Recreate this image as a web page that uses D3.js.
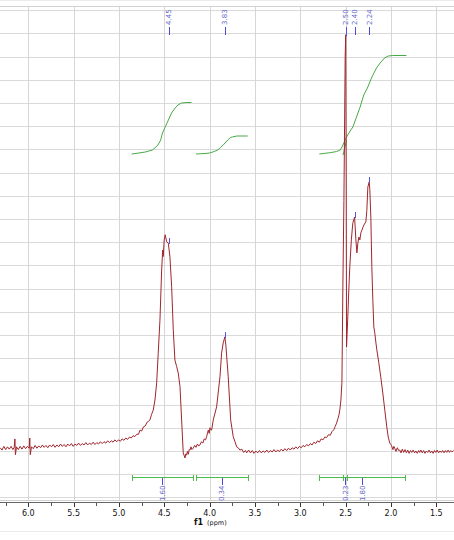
<!DOCTYPE html>
<html>
<head>
<meta charset="utf-8">
<script src="https://cdnjs.cloudflare.com/ajax/libs/d3/7.8.5/d3.min.js"></script>
<style>
body { margin: 0; background: #fff; }
svg { display: block; font-family: 'DejaVu Sans', sans-serif; }
</style>
</head>
<body>
<div id="chart"></div>
<script>
(function(){

// axis ticks (ppm)
var majorTicks = [6.0, 5.5, 5.0, 4.5, 4.0, 3.5, 3.0, 2.5, 2.0, 1.5];
var minorTicks = [6.25, 5.75, 5.25, 4.75, 4.25, 3.75, 3.25, 2.75, 2.25, 1.75];

// picked peaks (ppm)
var peaks = [4.45, 3.83, 2.50, 2.40, 2.24];

// integral regions: start, end, value
var intFrom  = [4.86, 4.15, 2.79, 2.53];
var intTo    = [4.18, 3.58, 1.84, 2.48];
var intValue = ['1.60', '0.34', '1.80', '0.23'];

// integral curves [ppm, cumulative]
var integral1 = [[4.86,0],[4.78,1],[4.71,2],[4.63,4],[4.57,9],[4.54,14],[4.52,21],[4.47,31],[4.42,41],[4.38,46],[4.35,49],[4.31,51],[4.25,51.5],[4.20,51.5]];
var integral2 = [[4.15,0],[4.05,0.5],[4.00,1],[3.95,2.5],[3.91,4],[3.88,6.5],[3.85,9],[3.80,14],[3.77,16.5],[3.75,17],[3.70,18],[3.58,18]];
var integral3 = [[2.79,0],[2.72,0.8],[2.68,1.2],[2.64,1.8],[2.60,2.5],[2.56,4],[2.54,7],[2.49,17],[2.45,23],[2.42,27],[2.38,37],[2.34,47],[2.30,59],[2.26,66],[2.21,77],[2.16,86],[2.12,91],[2.07,96],[2.03,98],[1.98,98.5],[1.90,98.5],[1.83,98.5]];
var integral4 = [[2.53,-1],[2.52,2],[2.505,8],[2.49,14]];

// 1H spectrum [ppm, intensity]
var spectrum = [
[6.31,0.7],[6.29,0.2],[6.27,1.0],[6.25,0.3],[6.23,0.9],[6.21,0.4],[6.19,1.0],[6.17,0.3],[6.155,0.8],[6.148,2.6],[6.142,-0.8],[6.13,0.9],
[6.11,0.3],[6.09,1.0],[6.07,0.4],[6.05,1.1],[6.03,0.5],[6.01,1.0],[5.99,0.6],[5.984,2.8],[5.978,-0.8],[5.965,0.9],[5.945,0.5],[5.925,1.2],
[5.905,0.6],[5.885,1.1],[5.865,0.7],[5.845,1.3],[5.825,0.8],[5.805,1.2],[5.785,0.7],[5.765,1.3],[5.745,0.9],[5.725,1.4],[5.705,0.8],[5.685,1.3],
[5.665,0.9],[5.645,1.5],[5.625,1.0],[5.605,1.4],[5.585,0.9],[5.565,1.5],[5.545,1.1],[5.525,1.6],[5.505,1.0],[5.485,1.5],[5.465,1.2],[5.445,1.7],
[5.425,1.2],[5.405,1.6],[5.385,1.3],[5.365,1.8],[5.345,1.3],[5.325,1.7],[5.305,1.4],[5.285,1.9],[5.265,1.4],[5.245,1.8],[5.225,1.5],[5.205,2.0],
[5.185,1.6],[5.165,2.0],[5.145,1.7],[5.125,2.2],[5.105,1.8],[5.085,2.2],[5.065,1.9],[5.045,2.4],[5.025,2.0],[5.005,2.4],[4.985,2.1],[4.965,2.6],
[4.945,2.3],[4.925,2.8],[4.905,2.5],[4.885,3.0],[4.865,2.8],[4.845,3.3],[4.825,3.1],[4.805,3.6],[4.785,3.6],[4.768,4.5],[4.75,4.3],[4.73,5.2],
[4.71,5.4],[4.69,6.2],[4.675,6.4],[4.658,6.7],[4.64,7.9],[4.622,8.8],[4.603,11.0],[4.584,14.7],[4.567,21.1],[4.548,28.2],[4.529,39.0],[4.518,43.3],
[4.512,41.9],[4.501,45.5],[4.490,46.6],[4.474,45.1],[4.456,44.8],[4.438,41.9],[4.419,35.4],[4.401,26.1],[4.383,19.6],[4.364,18.2],[4.346,16.8],[4.327,13.9],
[4.309,6.7],[4.291,-0.4],[4.272,-1.5],[4.262,-0.6],[4.254,-0.9],[4.245,-0.1],[4.235,-0.7],[4.226,0.3],[4.217,0.2],[4.205,0.9],[4.195,0.3],[4.181,0.6],
[4.165,1.2],[4.15,0.8],[4.135,1.5],[4.12,1.1],[4.107,1.3],[4.09,2.0],[4.075,1.7],[4.06,2.6],[4.045,2.4],[4.033,3.1],[4.023,3.9],[4.015,4.5],
[4.005,3.8],[3.997,5.0],[3.988,4.6],[3.978,4.5],[3.960,6.7],[3.923,9.5],[3.886,16.0],[3.868,21.1],[3.850,23.3],[3.832,24.6],[3.821,22.8],[3.795,16.0],
[3.768,6.7],[3.740,3.1],[3.72,2.0],[3.702,0.9],[3.685,0.7],[3.666,0.2],[3.645,0.4],[3.625,-0.3],[3.605,0.1],[3.592,-0.4],[3.57,0.2],[3.55,-0.4],
[3.53,0.1],[3.51,-0.5],[3.49,0.0],[3.47,-0.4],[3.45,0.1],[3.43,-0.4],[3.41,0.0],[3.39,-0.3],[3.37,0.2],[3.35,-0.3],[3.33,0.1],[3.31,-0.2],
[3.29,0.3],[3.27,-0.2],[3.25,0.2],[3.23,-0.1],[3.21,0.4],[3.19,0.0],[3.17,0.5],[3.15,0.1],[3.13,0.6],[3.11,0.2],[3.09,0.7],[3.07,0.4],
[3.05,0.9],[3.03,0.5],[3.01,1.0],[2.99,0.7],[2.97,1.2],[2.95,0.9],[2.93,1.4],[2.91,1.1],[2.89,1.6],[2.87,1.3],[2.85,1.9],[2.83,1.6],
[2.81,2.2],[2.79,1.9],[2.77,2.6],[2.75,2.4],[2.73,3.0],[2.71,2.9],[2.69,3.5],[2.67,3.4],[2.65,4.2],[2.63,4.6],[2.615,5.3],[2.60,6.0],
[2.585,7.0],[2.573,7.8],[2.563,9.0],[2.552,11.0],[2.541,14.7],[2.530,36.2],[2.519,54.0],[2.505,85.0],[2.499,89.7],[2.494,60.0],[2.490,22.4],[2.476,28.9],
[2.465,34.7],[2.454,39.7],[2.437,45.5],[2.421,49.1],[2.401,50.4],[2.387,45.5],[2.376,42.7],[2.365,44.8],[2.354,46.1],[2.343,45.5],[2.332,47.0],[2.321,47.6],
[2.299,48.7],[2.277,49.4],[2.266,51.9],[2.255,56.9],[2.240,58.0],[2.233,56.3],[2.222,50.4],[2.211,39.7],[2.200,32.5],[2.189,26.7],[2.178,25.4],[2.167,23.5],
[2.156,21.8],[2.134,19.0],[2.112,15.9],[2.090,12.5],[2.068,8.8],[2.046,5.2],[2.03,3.0],[2.013,1.7],[1.995,1.2],[1.978,0.3],[1.968,1.0],[1.958,0.6],
[1.945,-0.1],[1.93,0.7],[1.915,0.1],[1.903,0.2],[1.89,-0.4],[1.875,0.4],[1.86,-0.3],[1.845,0.3],[1.83,-0.4],[1.815,0.2],[1.80,-0.5],[1.785,0.1],
[1.77,-0.3],[1.755,0.2],[1.74,-0.4],[1.725,0.0],[1.71,-0.5],[1.695,0.1],[1.683,-0.3],[1.67,0.2],[1.655,-0.4],[1.64,0.1],[1.625,-0.5],[1.61,0.0],
[1.595,-0.3],[1.58,0.2],[1.565,-0.4],[1.55,0.0],[1.535,-0.5],[1.52,0.1],[1.505,-0.3],[1.49,0.2],[1.475,-0.4],[1.46,0.0],[1.445,-0.3],[1.43,0.1],
[1.415,-0.4],[1.40,0.1],[1.385,-0.3],[1.37,0.2],[1.355,-0.3],[1.34,0.1],[1.325,-0.2],[1.31,0.1]
];

var width = 454;
var height = 540;
var axisY = 502.5;

var x = d3.scaleLinear().domain([6.0, 1.5]).range([28.3, 436.3]);
var y = d3.scaleLinear().domain([-10, 95]).range([497.4, 10.2]);
var yInt = d3.scaleLinear().domain([0, 100]).range([154, 54]);

var svg = d3.select('#chart').append('svg')
	.attr('width', width)
	.attr('height', height);

// frame + grid
var grid = svg.append('g').attr('shape-rendering', 'crispEdges');

grid.selectAll('line.hgrid').data(y.ticks(20)).enter()
	.append('line')
	.attr('class', 'hgrid')
	.attr('x1', 0).attr('x2', width)
	.attr('y1', function(d) { return Math.round(y(d)) + 0.5; })
	.attr('y2', function(d) { return Math.round(y(d)) + 0.5; })
	.style('stroke', '#dadada');

grid.selectAll('line.vgrid').data(majorTicks).enter()
	.append('line')
	.attr('class', 'vgrid')
	.attr('x1', function(d) { return Math.round(x(d)) + 0.5; })
	.attr('x2', function(d) { return Math.round(x(d)) + 0.5; })
	.attr('y1', 7).attr('y2', 500)
	.style('stroke', '#d6d6d6');

[0.5, 6.5, 500.5, 531.5].forEach(function(yy) {
	grid.append('line')
		.attr('x1', 0).attr('x2', width)
		.attr('y1', yy).attr('y2', yy)
		.style('stroke', yy < 1 || yy > 531 ? '#ebebeb' : '#d2d2d2');
});

// x axis
var axis = svg.append('g').attr('shape-rendering', 'crispEdges');
axis.append('line')
	.attr('x1', 0).attr('x2', width)
	.attr('y1', axisY).attr('y2', axisY)
	.style('stroke', '#666');

axis.selectAll('line.major').data(majorTicks).enter()
	.append('line')
	.attr('x1', function(d) { return Math.round(x(d)) + 0.5; })
	.attr('x2', function(d) { return Math.round(x(d)) + 0.5; })
	.attr('y1', axisY).attr('y2', axisY + 4)
	.style('stroke', '#333');

axis.selectAll('line.minor').data(minorTicks).enter()
	.append('line')
	.attr('x1', function(d) { return Math.round(x(d)) + 0.5; })
	.attr('x2', function(d) { return Math.round(x(d)) + 0.5; })
	.attr('y1', axisY).attr('y2', axisY + 3)
	.style('stroke', '#555');

svg.selectAll('text.tick').data(majorTicks).enter()
	.append('text')
	.attr('class', 'tick')
	.attr('x', function(d) { return x(d); })
	.attr('y', 516)
	.attr('text-anchor', 'middle')
	.style('font-size', '8px')
	.style('fill', '#111')
	.text(d3.format('.1f'));

var title = svg.append('text')
	.attr('x', 194).attr('y', 525)
	.style('fill', '#111');
title.append('tspan').style('font-size', '8px').style('font-weight', 'bold').text('f1');
title.append('tspan').attr('dx', 4).style('font-size', '6.5px').text('(ppm)');

// integral curves
var intLine = d3.line()
	.x(function(d) { return x(d[0]); })
	.y(function(d) { return yInt(d[1]); });

svg.selectAll('path.integral').data([integral1, integral2, integral3, integral4]).enter()
	.append('path')
	.attr('class', 'integral')
	.attr('d', intLine)
	.style('fill', 'none')
	.style('stroke', '#47aa47')
	.style('stroke-width', 1);

// integral bars under the spectrum
var barY = 477.5;
var green = '#4cbb4c';
var bars = svg.selectAll('g.intbar').data(intFrom).enter()
	.append('g')
	.attr('class', 'intbar')
	.attr('shape-rendering', 'crispEdges');

bars.append('line')
	.attr('x1', function(d) { return x(d); })
	.attr('x2', function(d, i) { return x(intTo[i]); })
	.attr('y1', barY).attr('y2', barY)
	.style('stroke', green);

bars.append('line')
	.attr('x1', function(d) { return Math.round(x(d)) + 0.5; })
	.attr('x2', function(d) { return Math.round(x(d)) + 0.5; })
	.attr('y1', barY - 3).attr('y2', barY + 3)
	.style('stroke', green);

bars.append('line')
	.attr('x1', function(d, i) { return Math.round(x(intTo[i])) + 0.5; })
	.attr('x2', function(d, i) { return Math.round(x(intTo[i])) + 0.5; })
	.attr('y1', barY - 3).attr('y2', barY + 3)
	.style('stroke', green);

bars.append('line')
	.attr('x1', function(d, i) { return Math.round(x((d + intTo[i]) / 2)) + 0.5; })
	.attr('x2', function(d, i) { return Math.round(x((d + intTo[i]) / 2)) + 0.5; })
	.attr('y1', barY).attr('y2', barY + 7)
	.style('stroke', '#4b4bd6');

bars.append('text')
	.attr('transform', function(d, i) {
		return 'translate(' + x((d + intTo[i]) / 2) + ',' + (barY + 8) + ') rotate(-90)';
	})
	.attr('dy', '0.35em')
	.attr('text-anchor', 'end')
	.style('font-size', '7px')
	.style('fill', '#6a6ad0')
	.text(function(d, i) { return intValue[i]; });

// spectrum
var line = d3.line()
	.x(function(d) { return x(d[0]); })
	.y(function(d) { return y(d[1]); });

svg.append('path')
	.datum(spectrum)
	.attr('d', line)
	.style('fill', 'none')
	.style('stroke', '#a0262c')
	.style('stroke-width', 1)
	.style('stroke-linejoin', 'round');

// peak labels
var pk = svg.selectAll('g.peak').data(peaks).enter()
	.append('g')
	.attr('class', 'peak');

pk.append('line')
	.attr('x1', function(d) { return Math.round(x(d)) + 0.5; })
	.attr('x2', function(d) { return Math.round(x(d)) + 0.5; })
	.attr('y1', 27).attr('y2', 35)
	.attr('shape-rendering', 'crispEdges')
	.style('stroke', '#4b4bd6');

pk.append('line')
	.attr('x1', function(d) { return Math.round(x(d)) + 0.5; })
	.attr('x2', function(d) { return Math.round(x(d)) + 0.5; })
	.attr('y1', function(d) {
		var p = d3.least(spectrum, function(s) { return Math.abs(s[0] - d); });
		return y(p[1]) - 5;
	})
	.attr('y2', function(d) {
		var p = d3.least(spectrum, function(s) { return Math.abs(s[0] - d); });
		return y(p[1]) + 1;
	})
	.attr('shape-rendering', 'crispEdges')
	.style('stroke', '#5555dd');

pk.append('text')
	.attr('transform', function(d) { return 'translate(' + x(d) + ',25) rotate(-90)'; })
	.attr('dy', '0.35em')
	.style('font-size', '7px')
	.style('fill', '#6a6ad0')
	.text(function(d) { return d3.format('.2f')(d); });

})();
</script>
</body>
</html>
